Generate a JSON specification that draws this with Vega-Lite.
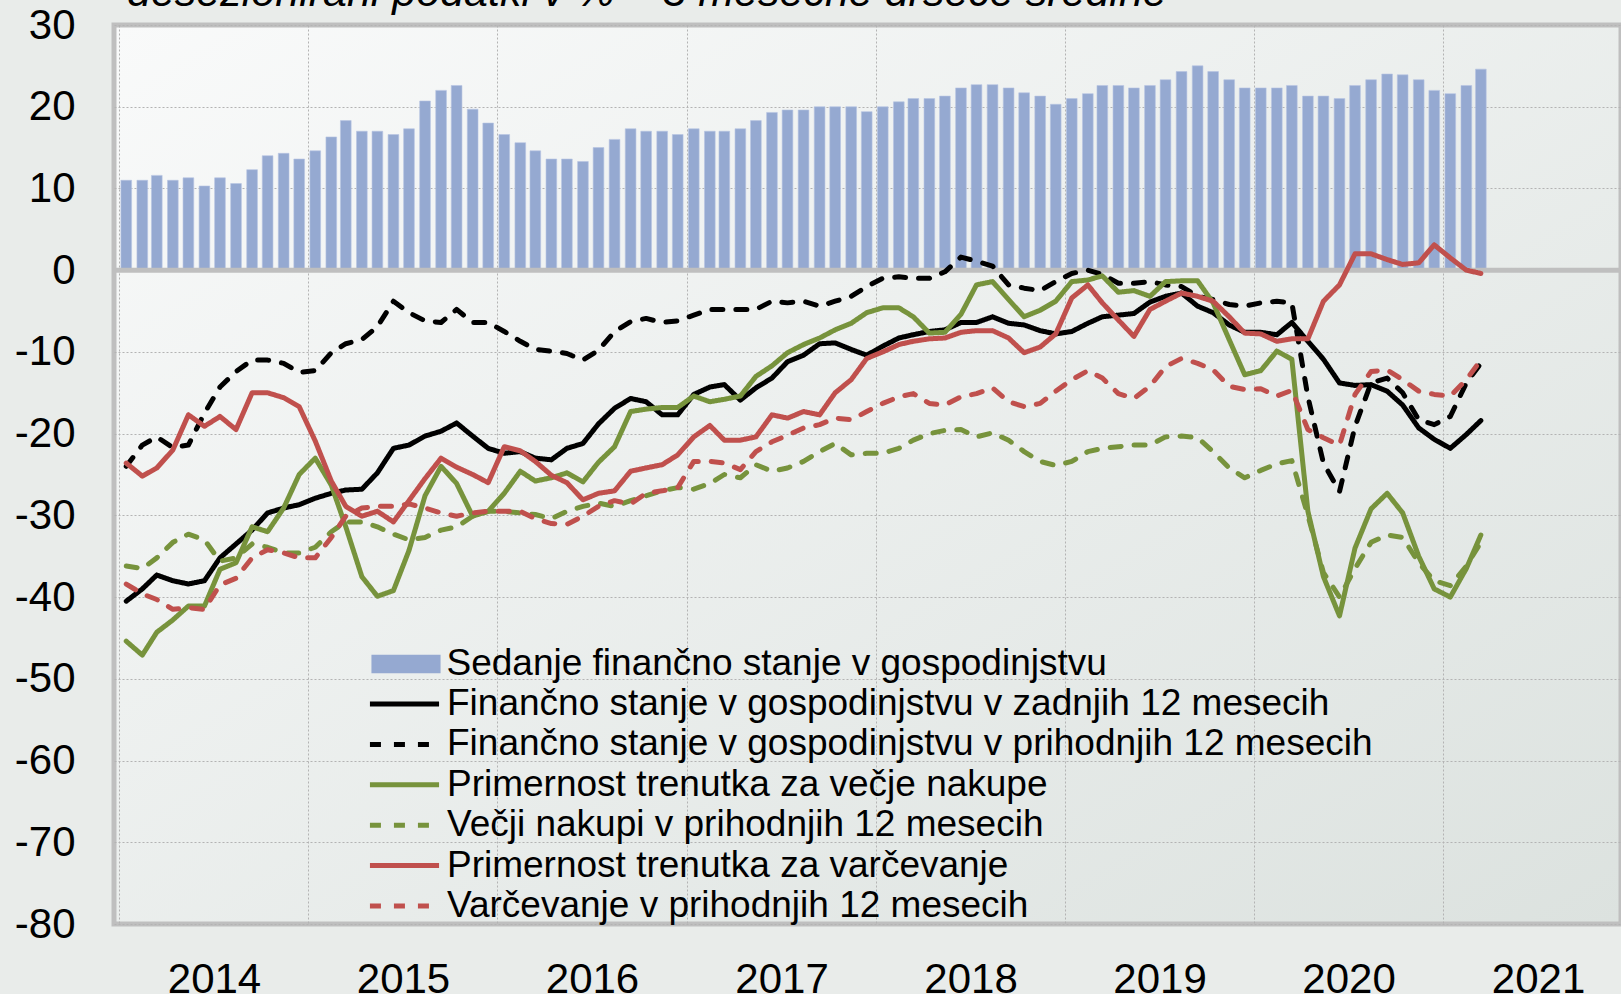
{
  "$schema": "https://vega.github.io/schema/vega-lite/v6.json",
  "width": 1507,
  "height": 899,
  "autosize": {"type": "none"},
  "padding": {"left": 114, "top": 25, "right": 0, "bottom": 70},
  "background": "#e9ecea",
  "title": {
    "text": "desezionirani podatki v % – 3 mesečne drseče sredine",
    "anchor": "start", "frame": "group", "fontSize": 43, "fontStyle": "italic", "fontWeight": "normal",
    "color": "#000000", "font": "Liberation Sans", "offset": 0, "dx": 13, "dy": 45, "baseline": "alphabetic"
  },
  "config": {
    "font": "Liberation Sans",
    "view": {
      "stroke": "#bfbfbf", "strokeWidth": 5,
      "fill": {"gradient": "linear", "x1": 0, "y1": 0, "x2": 1, "y2": 1,
        "stops": [{"offset": 0, "color": "#f9fafa"}, {"offset": 1, "color": "#dce2df"}]}
    },
    "axis": {
      "grid": true, "gridColor": "#b3b3b3", "gridDash": [2, 2], "gridWidth": 1,
      "ticks": false, "domain": false, "labelFontSize": 42, "labelColor": "#000000", "labelFont": "Liberation Sans"
    },
    "legend": {
      "orient": "none", "title": null, "padding": 0,
      "labelFontSize": 37, "labelFont": "Liberation Sans", "labelColor": "#000000", "labelLimit": 1500,
      "rowPadding": 2.4, "symbolSize": 1024
    }
  },
  "data": {"values": [
    {"d":"2014-01-15","bar":11.0,"fin_z":-40.5,"fin_p":-24.0,"nak_t":-45.4,"nak_p":-36.2,"varc_t":-23.6,"varc_p":-38.4},
    {"d":"2014-02-15","bar":11.0,"fin_z":-39.0,"fin_p":-21.4,"nak_t":-47.1,"nak_p":-36.5,"varc_t":-25.2,"varc_p":-39.6},
    {"d":"2014-03-15","bar":11.6,"fin_z":-37.3,"fin_p":-20.4,"nak_t":-44.3,"nak_p":-35.2,"varc_t":-24.2,"varc_p":-40.3},
    {"d":"2014-04-15","bar":11.0,"fin_z":-38.0,"fin_p":-21.7,"nak_t":-42.8,"nak_p":-33.3,"varc_t":-22.0,"varc_p":-41.5},
    {"d":"2014-05-15","bar":11.3,"fin_z":-38.4,"fin_p":-21.4,"nak_t":-41.1,"nak_p":-32.3,"varc_t":-17.7,"varc_p":-41.3},
    {"d":"2014-06-15","bar":10.3,"fin_z":-38.0,"fin_p":-17.5,"nak_t":-41.1,"nak_p":-33.0,"varc_t":-19.1,"varc_p":-41.5},
    {"d":"2014-07-15","bar":11.3,"fin_z":-35.2,"fin_p":-14.3,"nak_t":-36.6,"nak_p":-35.6,"varc_t":-17.9,"varc_p":-38.5},
    {"d":"2014-08-15","bar":10.6,"fin_z":-33.5,"fin_p":-12.4,"nak_t":-35.8,"nak_p":-35.2,"varc_t":-19.5,"varc_p":-37.7},
    {"d":"2014-09-15","bar":12.3,"fin_z":-31.8,"fin_p":-11.0,"nak_t":-31.4,"nak_p":-33.5,"varc_t":-15.0,"varc_p":-35.2},
    {"d":"2014-10-15","bar":14.0,"fin_z":-29.7,"fin_p":-11.0,"nak_t":-32.0,"nak_p":-33.9,"varc_t":-15.0,"varc_p":-34.2},
    {"d":"2014-11-15","bar":14.3,"fin_z":-29.1,"fin_p":-11.4,"nak_t":-29.1,"nak_p":-34.6,"varc_t":-15.6,"varc_p":-34.6},
    {"d":"2014-12-15","bar":13.6,"fin_z":-28.7,"fin_p":-12.5,"nak_t":-25.0,"nak_p":-34.6,"varc_t":-16.7,"varc_p":-35.2},
    {"d":"2015-01-15","bar":14.6,"fin_z":-27.9,"fin_p":-12.3,"nak_t":-23.0,"nak_p":-33.9,"varc_t":-20.9,"varc_p":-35.2},
    {"d":"2015-02-15","bar":16.3,"fin_z":-27.3,"fin_p":-10.1,"nak_t":-26.3,"nak_p":-32.0,"varc_t":-25.8,"varc_p":-32.7},
    {"d":"2015-03-15","bar":18.3,"fin_z":-26.9,"fin_p":-9.0,"nak_t":-31.4,"nak_p":-30.8,"varc_t":-28.9,"varc_p":-30.1},
    {"d":"2015-04-15","bar":17.0,"fin_z":-26.8,"fin_p":-8.5,"nak_t":-37.5,"nak_p":-30.8,"varc_t":-30.1,"varc_p":-29.1},
    {"d":"2015-05-15","bar":17.0,"fin_z":-24.8,"fin_p":-6.9,"nak_t":-39.9,"nak_p":-31.4,"varc_t":-29.5,"varc_p":-28.9},
    {"d":"2015-06-15","bar":16.6,"fin_z":-21.8,"fin_p":-3.8,"nak_t":-39.2,"nak_p":-32.3,"varc_t":-30.8,"varc_p":-28.9},
    {"d":"2015-07-15","bar":17.3,"fin_z":-21.4,"fin_p":-5.2,"nak_t":-34.3,"nak_p":-33.0,"varc_t":-28.2,"varc_p":-28.6},
    {"d":"2015-08-15","bar":20.7,"fin_z":-20.3,"fin_p":-6.2,"nak_t":-27.6,"nak_p":-32.7,"varc_t":-25.5,"varc_p":-29.1},
    {"d":"2015-09-15","bar":22.0,"fin_z":-19.7,"fin_p":-6.4,"nak_t":-24.0,"nak_p":-31.8,"varc_t":-23.0,"varc_p":-29.7},
    {"d":"2015-10-15","bar":22.6,"fin_z":-18.7,"fin_p":-4.8,"nak_t":-26.1,"nak_p":-31.4,"varc_t":-24.1,"varc_p":-30.1},
    {"d":"2015-11-15","bar":19.7,"fin_z":-20.3,"fin_p":-6.4,"nak_t":-30.1,"nak_p":-30.1,"varc_t":-25.0,"varc_p":-29.7},
    {"d":"2015-12-15","bar":18.0,"fin_z":-21.8,"fin_p":-6.4,"nak_t":-29.5,"nak_p":-29.5,"varc_t":-26.0,"varc_p":-29.5},
    {"d":"2016-01-15","bar":16.6,"fin_z":-22.4,"fin_p":-7.5,"nak_t":-27.3,"nak_p":-29.5,"varc_t":-21.6,"varc_p":-29.5},
    {"d":"2016-02-15","bar":15.6,"fin_z":-22.2,"fin_p":-8.7,"nak_t":-24.6,"nak_p":-29.7,"varc_t":-22.1,"varc_p":-29.5},
    {"d":"2016-03-15","bar":14.6,"fin_z":-23.0,"fin_p":-9.7,"nak_t":-25.8,"nak_p":-29.9,"varc_t":-23.4,"varc_p":-30.4},
    {"d":"2016-04-15","bar":13.6,"fin_z":-23.2,"fin_p":-9.9,"nak_t":-25.4,"nak_p":-30.4,"varc_t":-25.1,"varc_p":-31.0},
    {"d":"2016-05-15","bar":13.6,"fin_z":-21.8,"fin_p":-10.2,"nak_t":-24.8,"nak_p":-29.5,"varc_t":-26.0,"varc_p":-31.1},
    {"d":"2016-06-15","bar":13.3,"fin_z":-21.2,"fin_p":-11.0,"nak_t":-25.9,"nak_p":-28.9,"varc_t":-28.1,"varc_p":-30.1},
    {"d":"2016-07-15","bar":15.0,"fin_z":-18.8,"fin_p":-9.8,"nak_t":-23.5,"nak_p":-28.5,"varc_t":-27.3,"varc_p":-28.9},
    {"d":"2016-08-15","bar":16.0,"fin_z":-16.9,"fin_p":-7.5,"nak_t":-21.6,"nak_p":-28.9,"varc_t":-27.0,"varc_p":-28.2},
    {"d":"2016-09-15","bar":17.3,"fin_z":-15.7,"fin_p":-6.3,"nak_t":-17.3,"nak_p":-28.2,"varc_t":-24.6,"varc_p":-28.6},
    {"d":"2016-10-15","bar":17.0,"fin_z":-16.1,"fin_p":-5.9,"nak_t":-17.0,"nak_p":-27.6,"varc_t":-24.2,"varc_p":-27.3},
    {"d":"2016-11-15","bar":17.0,"fin_z":-17.7,"fin_p":-6.4,"nak_t":-16.8,"nak_p":-27.0,"varc_t":-23.8,"varc_p":-27.0},
    {"d":"2016-12-15","bar":16.6,"fin_z":-17.7,"fin_p":-6.2,"nak_t":-16.8,"nak_p":-26.6,"varc_t":-22.6,"varc_p":-26.6},
    {"d":"2017-01-15","bar":17.3,"fin_z":-15.2,"fin_p":-5.5,"nak_t":-15.4,"nak_p":-26.8,"varc_t":-20.4,"varc_p":-23.4},
    {"d":"2017-02-15","bar":17.0,"fin_z":-14.3,"fin_p":-4.8,"nak_t":-16.1,"nak_p":-26.1,"varc_t":-19.0,"varc_p":-23.4},
    {"d":"2017-03-15","bar":17.0,"fin_z":-14.0,"fin_p":-4.8,"nak_t":-15.8,"nak_p":-25.0,"varc_t":-20.8,"varc_p":-23.6},
    {"d":"2017-04-15","bar":17.3,"fin_z":-15.9,"fin_p":-4.8,"nak_t":-15.4,"nak_p":-25.4,"varc_t":-20.8,"varc_p":-24.4},
    {"d":"2017-05-15","bar":18.3,"fin_z":-14.4,"fin_p":-4.8,"nak_t":-13.0,"nak_p":-23.8,"varc_t":-20.4,"varc_p":-22.2},
    {"d":"2017-06-15","bar":19.3,"fin_z":-13.2,"fin_p":-3.8,"nak_t":-11.7,"nak_p":-24.6,"varc_t":-17.7,"varc_p":-21.0},
    {"d":"2017-07-15","bar":19.6,"fin_z":-11.2,"fin_p":-4.0,"nak_t":-10.1,"nak_p":-24.2,"varc_t":-18.1,"varc_p":-20.2},
    {"d":"2017-08-15","bar":19.6,"fin_z":-10.4,"fin_p":-3.8,"nak_t":-9.1,"nak_p":-23.4,"varc_t":-17.3,"varc_p":-19.3},
    {"d":"2017-09-15","bar":20.0,"fin_z":-9.0,"fin_p":-4.4,"nak_t":-8.3,"nak_p":-22.2,"varc_t":-17.7,"varc_p":-18.9},
    {"d":"2017-10-15","bar":20.0,"fin_z":-8.9,"fin_p":-3.8,"nak_t":-7.3,"nak_p":-21.2,"varc_t":-15.0,"varc_p":-18.1},
    {"d":"2017-11-15","bar":20.0,"fin_z":-9.7,"fin_p":-3.2,"nak_t":-6.5,"nak_p":-22.6,"varc_t":-13.4,"varc_p":-18.3},
    {"d":"2017-12-15","bar":19.4,"fin_z":-10.4,"fin_p":-2.0,"nak_t":-5.2,"nak_p":-22.4,"varc_t":-10.8,"varc_p":-17.3},
    {"d":"2018-01-15","bar":20.0,"fin_z":-9.3,"fin_p":-1.0,"nak_t":-4.6,"nak_p":-22.4,"varc_t":-10.0,"varc_p":-16.3},
    {"d":"2018-02-15","bar":20.6,"fin_z":-8.3,"fin_p":-0.8,"nak_t":-4.6,"nak_p":-21.8,"varc_t":-9.1,"varc_p":-15.5},
    {"d":"2018-03-15","bar":21.0,"fin_z":-7.9,"fin_p":-1.0,"nak_t":-5.7,"nak_p":-20.8,"varc_t":-8.7,"varc_p":-15.1},
    {"d":"2018-04-15","bar":21.0,"fin_z":-7.5,"fin_p":-1.0,"nak_t":-7.7,"nak_p":-20.0,"varc_t":-8.4,"varc_p":-16.3},
    {"d":"2018-05-15","bar":21.3,"fin_z":-7.3,"fin_p":-0.2,"nak_t":-7.6,"nak_p":-19.6,"varc_t":-8.3,"varc_p":-16.5},
    {"d":"2018-06-15","bar":22.3,"fin_z":-6.4,"fin_p":1.6,"nak_t":-5.4,"nak_p":-19.5,"varc_t":-7.6,"varc_p":-15.5},
    {"d":"2018-07-15","bar":22.7,"fin_z":-6.4,"fin_p":1.1,"nak_t":-1.8,"nak_p":-20.4,"varc_t":-7.4,"varc_p":-15.1},
    {"d":"2018-08-15","bar":22.7,"fin_z":-5.7,"fin_p":0.5,"nak_t":-1.4,"nak_p":-19.9,"varc_t":-7.4,"varc_p":-14.4},
    {"d":"2018-09-15","bar":22.3,"fin_z":-6.5,"fin_p":-1.8,"nak_t":-3.6,"nak_p":-20.8,"varc_t":-8.3,"varc_p":-16.1},
    {"d":"2018-10-15","bar":21.7,"fin_z":-6.7,"fin_p":-2.2,"nak_t":-5.7,"nak_p":-22.2,"varc_t":-10.1,"varc_p":-16.7},
    {"d":"2018-11-15","bar":21.3,"fin_z":-7.4,"fin_p":-2.5,"nak_t":-4.9,"nak_p":-23.4,"varc_t":-9.4,"varc_p":-16.3},
    {"d":"2018-12-15","bar":20.3,"fin_z":-7.8,"fin_p":-1.4,"nak_t":-3.8,"nak_p":-23.9,"varc_t":-7.8,"varc_p":-14.8},
    {"d":"2019-01-15","bar":21.0,"fin_z":-7.5,"fin_p":-0.4,"nak_t":-1.4,"nak_p":-23.4,"varc_t":-3.4,"varc_p":-13.4},
    {"d":"2019-02-15","bar":21.6,"fin_z":-6.5,"fin_p":0.0,"nak_t":-1.2,"nak_p":-22.2,"varc_t":-1.8,"varc_p":-12.3},
    {"d":"2019-03-15","bar":22.6,"fin_z":-5.7,"fin_p":-0.5,"nak_t":-0.7,"nak_p":-21.8,"varc_t":-4.0,"varc_p":-13.2},
    {"d":"2019-04-15","bar":22.6,"fin_z":-5.5,"fin_p":-1.6,"nak_t":-2.7,"nak_p":-21.6,"varc_t":-6.1,"varc_p":-15.1},
    {"d":"2019-05-15","bar":22.3,"fin_z":-5.3,"fin_p":-1.6,"nak_t":-2.5,"nak_p":-21.4,"varc_t":-8.1,"varc_p":-15.7},
    {"d":"2019-06-15","bar":22.6,"fin_z":-3.9,"fin_p":-1.4,"nak_t":-3.2,"nak_p":-21.4,"varc_t":-4.8,"varc_p":-14.2},
    {"d":"2019-07-15","bar":23.3,"fin_z":-3.2,"fin_p":-1.8,"nak_t":-1.4,"nak_p":-20.4,"varc_t":-3.8,"varc_p":-11.8},
    {"d":"2019-08-15","bar":24.3,"fin_z":-2.8,"fin_p":-2.0,"nak_t":-1.3,"nak_p":-20.3,"varc_t":-2.8,"varc_p":-10.8},
    {"d":"2019-09-15","bar":25.0,"fin_z":-4.4,"fin_p":-3.2,"nak_t":-1.3,"nak_p":-20.5,"varc_t":-3.2,"varc_p":-11.4},
    {"d":"2019-10-15","bar":24.3,"fin_z":-5.2,"fin_p":-3.6,"nak_t":-4.0,"nak_p":-22.2,"varc_t":-3.8,"varc_p":-12.2},
    {"d":"2019-11-15","bar":23.3,"fin_z":-6.7,"fin_p":-4.2,"nak_t":-8.5,"nak_p":-24.2,"varc_t":-5.7,"varc_p":-14.2},
    {"d":"2019-12-15","bar":22.3,"fin_z":-7.6,"fin_p":-4.4,"nak_t":-12.8,"nak_p":-25.4,"varc_t":-7.7,"varc_p":-14.6},
    {"d":"2020-01-15","bar":22.3,"fin_z":-7.6,"fin_p":-4.0,"nak_t":-12.3,"nak_p":-24.5,"varc_t":-7.8,"varc_p":-14.5},
    {"d":"2020-02-15","bar":22.3,"fin_z":-7.9,"fin_p":-3.8,"nak_t":-9.9,"nak_p":-23.7,"varc_t":-8.7,"varc_p":-15.4},
    {"d":"2020-03-15","bar":22.6,"fin_z":-6.4,"fin_p":-4.0,"nak_t":-10.9,"nak_p":-23.3,"varc_t":-8.4,"varc_p":-14.7},
    {"d":"2020-04-15","bar":21.3,"fin_z":-8.7,"fin_p":-15.5,"nak_t":-29.5,"nak_p":-30.0,"varc_t":-8.4,"varc_p":-19.5},
    {"d":"2020-05-15","bar":21.3,"fin_z":-10.9,"fin_p":-23.6,"nak_t":-37.5,"nak_p":-37.0,"varc_t":-3.8,"varc_p":-20.5},
    {"d":"2020-06-15","bar":21.0,"fin_z":-13.8,"fin_p":-27.1,"nak_t":-42.3,"nak_p":-40.0,"varc_t":-1.8,"varc_p":-21.4},
    {"d":"2020-07-15","bar":22.6,"fin_z":-14.1,"fin_p":-19.1,"nak_t":-34.0,"nak_p":-36.5,"varc_t":2.0,"varc_p":-15.2},
    {"d":"2020-08-15","bar":23.3,"fin_z":-14.0,"fin_p":-13.8,"nak_t":-29.2,"nak_p":-33.3,"varc_t":2.0,"varc_p":-12.4},
    {"d":"2020-09-15","bar":24.0,"fin_z":-14.8,"fin_p":-13.2,"nak_t":-27.3,"nak_p":-32.4,"varc_t":1.3,"varc_p":-12.2},
    {"d":"2020-10-15","bar":23.9,"fin_z":-16.5,"fin_p":-15.0,"nak_t":-29.7,"nak_p":-32.7,"varc_t":0.7,"varc_p":-13.4},
    {"d":"2020-11-15","bar":23.3,"fin_z":-19.3,"fin_p":-18.3,"nak_t":-35.0,"nak_p":-35.8,"varc_t":0.9,"varc_p":-14.8},
    {"d":"2020-12-15","bar":22.0,"fin_z":-20.7,"fin_p":-18.9,"nak_t":-39.0,"nak_p":-38.0,"varc_t":3.1,"varc_p":-15.2},
    {"d":"2021-01-15","bar":21.6,"fin_z":-21.8,"fin_p":-17.9,"nak_t":-40.0,"nak_p":-38.6,"varc_t":1.5,"varc_p":-15.4},
    {"d":"2021-02-15","bar":22.6,"fin_z":-20.1,"fin_p":-13.8,"nak_t":-36.5,"nak_p":-36.2,"varc_t":0.0,"varc_p":-13.4},
    {"d":"2021-03-15","bar":24.6,"fin_z":-18.4,"fin_p":-11.4,"nak_t":-32.4,"nak_p":-33.3,"varc_t":-0.4,"varc_p":-11.0}
  ]},
  "layer": [
    {
      "mark": {"type": "bar", "width": 10.7, "stroke": "#b7c5e2", "strokeWidth": 0.6},
      "encoding": {
        "x": {
          "field": "d", "type": "temporal", "title": null,
          "scale": {"domain": [{"year": 2014, "month": 1, "date": 1}, {"year": 2021, "month": 12, "date": 1}]},
          "axis": {
            "values": [{"year": 2014, "month": 1, "date": 1}, {"year": 2015, "month": 1, "date": 1}, {"year": 2016, "month": 1, "date": 1}, {"year": 2017, "month": 1, "date": 1}, {"year": 2018, "month": 1, "date": 1}, {"year": 2019, "month": 1, "date": 1}, {"year": 2020, "month": 1, "date": 1}, {"year": 2021, "month": 1, "date": 1}],
            "format": "%Y", "labelOffset": 95, "labelPadding": 68, "labelBaseline": "alphabetic",
            "labelFlush": false, "labelOverlap": false, "labelBound": false, "title": null
          }
        },
        "y": {
          "field": "bar", "type": "quantitative", "title": null,
          "scale": {"domain": [-80, 30], "nice": false, "zero": false},
          "axis": {"values": [-80, -70, -60, -50, -40, -30, -20, -10, 0, 10, 20, 30], "labelExpr": "datum.value + ''", "labelPadding": 39, "title": null}
        },
        "fill": {
          "datum": "bar", "type": "nominal",
          "scale": {"domain": ["bar"], "range": ["#95a9d1"]},
          "legend": {
            "legendX": 273.5, "legendY": 620.5,
            "symbolType": "M-2.16,-0.58H2.16V0.58H-2.16Z", "symbolStrokeWidth": 0, "labelOffset": 22,
            "labelExpr": "'Sedanje finančno stanje v gospodinjstvu'"
          }
        }
      }
    },
    {
      "data": {"values": [{}]},
      "mark": {"type": "rule", "stroke": "#bfbfbf", "strokeWidth": 5},
      "encoding": {"y": {"datum": 0, "type": "quantitative"}}
    },
    {
      "transform": [{"fold": ["fin_z", "fin_p", "nak_t", "nak_p", "varc_t", "varc_p"], "as": ["key", "value"]}],
      "mark": {"type": "line", "strokeWidth": 5, "strokeCap": "round", "strokeJoin": "round"},
      "encoding": {
        "x": {"field": "d", "type": "temporal", "title": null},
        "y": {"field": "value", "type": "quantitative", "title": null},
        "stroke": {
          "field": "key", "type": "nominal",
          "scale": {"domain": ["fin_z", "fin_p", "nak_t", "nak_p", "varc_t", "varc_p"],
                    "range": ["#000000", "#000000", "#77933c", "#77933c", "#c0504d", "#c0504d"]},
          "legend": {
            "legendX": 272, "legendY": 660.5,
            "symbolType": "M-2.16,0H2.16", "symbolStrokeWidth": 5, "labelOffset": 24,
            "labelExpr": "{'fin_z':'Finančno stanje v gospodinjstvu v zadnjih 12 mesecih','fin_p':'Finančno stanje v gospodinjstvu v prihodnjih 12 mesecih','nak_t':'Primernost trenutka za večje nakupe','nak_p':'Večji nakupi v prihodnjih 12 mesecih','varc_t':'Primernost trenutka za varčevanje','varc_p':'Varčevanje v prihodnjih 12 mesecih'}[datum.value]"
          }
        },
        "strokeDash": {
          "field": "key", "type": "nominal",
          "scale": {"domain": ["fin_z", "fin_p", "nak_t", "nak_p", "varc_t", "varc_p"],
                    "range": [[1, 0], [11, 13], [1, 0], [11, 13], [1, 0], [11, 13]]},
          "legend": {
            "legendX": 272, "legendY": 660.5,
            "symbolType": "M-2.16,0H2.16", "symbolStrokeWidth": 5, "labelOffset": 24,
            "labelExpr": "{'fin_z':'Finančno stanje v gospodinjstvu v zadnjih 12 mesecih','fin_p':'Finančno stanje v gospodinjstvu v prihodnjih 12 mesecih','nak_t':'Primernost trenutka za večje nakupe','nak_p':'Večji nakupi v prihodnjih 12 mesecih','varc_t':'Primernost trenutka za varčevanje','varc_p':'Varčevanje v prihodnjih 12 mesecih'}[datum.value]"
          }
        }
      }
    }
  ]
}
